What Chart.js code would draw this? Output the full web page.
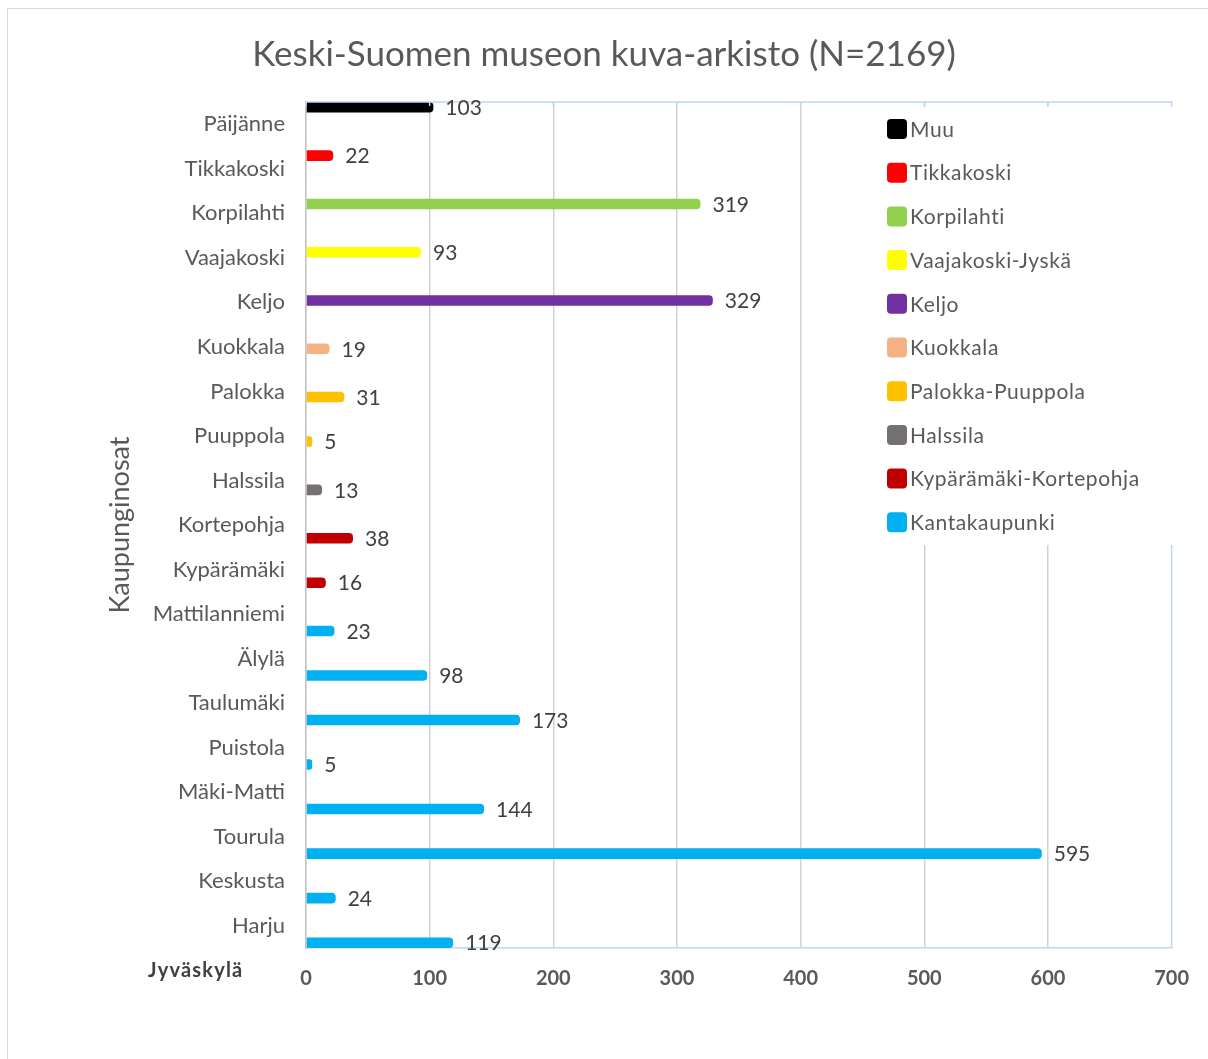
<!DOCTYPE html>
<html>
<head>
<meta charset="utf-8">
<title>Keski-Suomen museon kuva-arkisto</title>
<script src="https://cdn.jsdelivr.net/npm/chart.js"></script>
</head>
<style>
body { margin: 0; background: #fff; }
#wrap { width: 1208px; height: 1059px; }
</style>
<body>
<div id="wrap"><canvas id="chart"></canvas></div>
</body>
<script>
// city parts, top to bottom, with the number of photos and the area group they belong to
const categories = ['Päijänne', 'Tikkakoski', 'Korpilahti', 'Vaajakoski', 'Keljo', 'Kuokkala', 'Palokka',
  'Puuppola', 'Halssila', 'Kortepohja', 'Kypärämäki', 'Mattilanniemi', 'Älylä', 'Taulumäki', 'Puistola',
  'Mäki-Matti', 'Tourula', 'Keskusta', 'Harju'];
const counts = [103, 22, 319, 93, 329, 19, 31, 5, 13, 38, 16, 23, 98, 173, 5, 144, 595, 24, 119];
const areaOf = ['Muu', 'Tikkakoski', 'Korpilahti', 'Vaajakoski-Jyskä', 'Keljo', 'Kuokkala', 'Palokka-Puuppola',
  'Palokka-Puuppola', 'Halssila', 'Kypärämäki-Kortepohja', 'Kypärämäki-Kortepohja', 'Kantakaupunki',
  'Kantakaupunki', 'Kantakaupunki', 'Kantakaupunki', 'Kantakaupunki', 'Kantakaupunki', 'Kantakaupunki',
  'Kantakaupunki'];
const seriesNames = ['Muu', 'Tikkakoski', 'Korpilahti', 'Vaajakoski-Jyskä', 'Keljo', 'Kuokkala',
  'Palokka-Puuppola', 'Halssila', 'Kypärämäki-Kortepohja', 'Kantakaupunki'];
const seriesColors = ['#000000', '#ff0000', '#92d050', '#ffff00', '#7030a0', '#f4b183',
  '#ffc000', '#767171', '#c00000', '#00b0f0'];
const xTicks = [0, 100, 200, 300, 400, 500, 600, 700];
const cityLabel = 'Jyväskylä';
const chartTitle = 'Keski-Suomen museon kuva-arkisto (N=2169)';
const axisTitle = 'Kaupunginosat';

const FONT = 'Lato';
const GREY = '#595959';
const FRAME = '#bdd7ee';

// one series per area; every series keeps its own slot in each row (like Excel's clustered bars)
const datasets = seriesNames.map((name, s) => ({
  label: name,
  backgroundColor: seriesColors[s],
  data: categories.map((c, i) => areaOf[i] === name ? counts[i] : null),
  categoryPercentage: 0.845,
  barPercentage: 2.8,
  borderRadius: 4,
  borderSkipped: 'start'
}));

// value labels, the frame, the legend box and the city name
const extras = {
  id: 'extras',
  beforeDraw(chart) {
    const ctx = chart.ctx;
    ctx.save();
    ctx.fillStyle = '#fff';
    ctx.fillRect(0, 0, chart.width, chart.height);
    ctx.strokeStyle = '#d9d9d9';
    ctx.lineWidth = 1;
    ctx.strokeRect(7.5, 8.5, chart.width + 20, chart.height + 20);
    ctx.restore();
  },
  afterDatasetsDraw(chart) {
    const ctx = chart.ctx;
    const a = chart.chartArea;
    const xs = chart.scales.x;
    ctx.save();
    // top and right edge of the plot
    ctx.strokeStyle = FRAME;
    ctx.lineWidth = 1.5;
    ctx.beginPath();
    ctx.moveTo(a.left, a.top);
    ctx.lineTo(a.right, a.top);
    ctx.lineTo(a.right, a.bottom);
    xTicks.forEach(v => {
      const px = xs.getPixelForValue(v);
      ctx.moveTo(px, a.top);
      ctx.lineTo(px, a.top + 4);
    });
    ctx.stroke();

    // values
    ctx.font = '21px ' + FONT;
    ctx.fillStyle = '#404040';
    ctx.textBaseline = 'middle';
    chart.data.datasets.forEach((ds, d) => {
      chart.getDatasetMeta(d).data.forEach((bar, j) => {
        if (ds.data[j] === null) return;
        ctx.fillText(String(ds.data[j]), bar.x + 12, bar.y + 1);
      });
    });

    // legend
    ctx.fillStyle = '#fff';
    ctx.fillRect(878, 107, 296, 438);
    ctx.textBaseline = 'middle';
    ctx.font = '21px ' + FONT;
    ctx.letterSpacing = '0.6px';
    seriesNames.forEach((name, s) => {
      const y = 129 + s * 43.7;
      ctx.fillStyle = seriesColors[s];
      ctx.beginPath();
      ctx.roundRect(887, y - 10, 20, 20, 4);
      ctx.fill();
      ctx.fillStyle = GREY;
      ctx.fillText(name, 910, y + 1);
    });

    // city name under the category labels
    ctx.font = 'bold 20px ' + FONT;
    ctx.letterSpacing = '1.2px';
    ctx.fillStyle = '#404040';
    ctx.fillText(cityLabel, 148, 971);
    ctx.restore();
  }
};

new Chart(document.getElementById('chart'), {
  type: 'bar',
  data: { labels: categories, datasets: datasets },
  plugins: [extras],
  options: {
    indexAxis: 'y',
    responsive: true,
    maintainAspectRatio: false,
    animation: false,
    layout: { padding: 0 },
    plugins: {
      legend: { display: false },
      tooltip: { enabled: false },
      title: {
        display: true,
        text: chartTitle,
        color: GREY,
        font: { family: FONT, size: 35, weight: 'normal' },
        padding: { top: 34, bottom: 26 }
      }
    },
    scales: {
      x: {
        type: 'linear',
        min: 0,
        max: 700,
        ticks: {
          stepSize: 100,
          color: GREY,
          padding: 19,
          font: { family: FONT, size: 20, weight: 'bold' }
        },
        grid: {
          drawTicks: false,
          lineWidth: 1.5,
          color: ctx => ctx.tick && ctx.tick.value === 700 ? 'rgba(0,0,0,0)' : '#d2d2d2'
        },
        border: { color: FRAME, width: 1.5 },
        afterFit: s => { s.height = 111; }
      },
      y: {
        type: 'category',
        offset: true,
        grid: { display: false },
        border: { color: '#c4c4c4', width: 1.5, dash: [2, 1] },
        ticks: {
          autoSkip: false,
          padding: 13,
          color: GREY,
          font: { family: FONT, size: 22 }
        },
        title: {
          display: true,
          text: axisTitle,
          color: GREY,
          font: { family: FONT, size: 27 },
          padding: { top: 104, bottom: 0 }
        },
        afterFit: s => { s.width = 306; }
      }
    }
  }
});
</script>
</html>
